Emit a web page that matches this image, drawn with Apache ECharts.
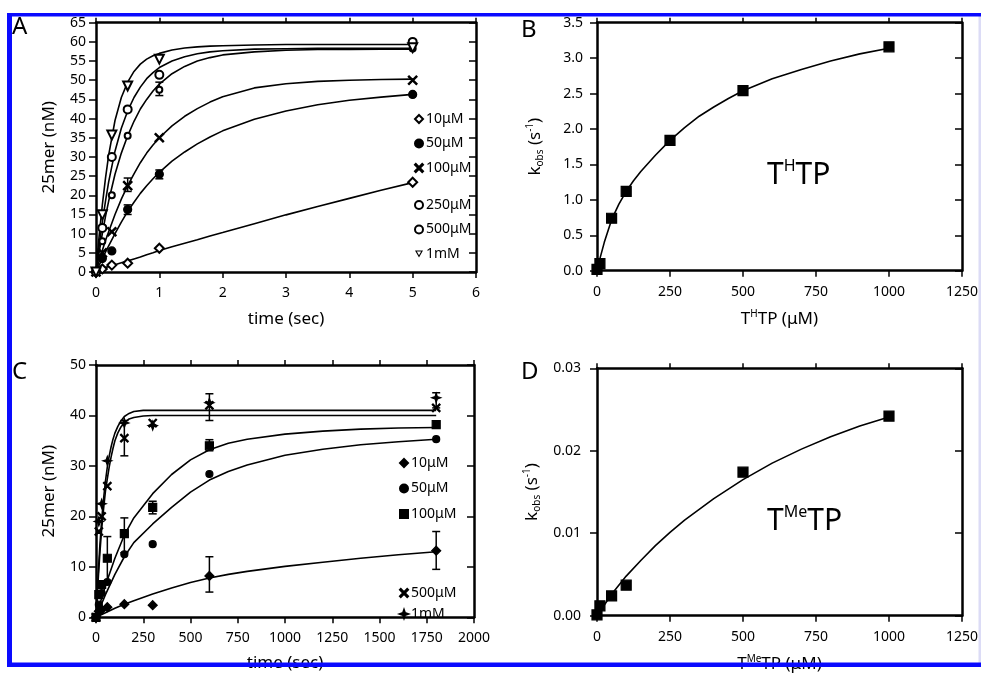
<!DOCTYPE html>
<html><head><meta charset="utf-8">
<script src="https://cdn.jsdelivr.net/npm/echarts@6/dist/echarts.min.js"></script>
<style>html,body{margin:0;padding:0;background:#fff}#c{width:981px;height:676px}</style>
</head><body><div id="c"></div>
<script>
// ---------- Panel A (T^H TP time courses) ----------
const aTimes = [0, 0.1, 0.25, 0.5, 1, 5];
const a10  = [0, 0.8, 1.8, 2.3, 6.2, 23.4];
const a50  = [0, 3.5, 5.5, 16.3, 25.5, 46.3];
const a100 = [0, 5, 10.5, 22.5, 35, 50];
const a250 = [0, 8, 20, 35.5, 47.5, 58.3];
const a500 = [0, 11.5, 30, 42.4, 51.4, 60];
const a1mM = [0, 14.9, 35.7, 48.5, 55.5, 58.5];
const aFitT   = [0, 0.05, 0.1, 0.15, 0.2, 0.3, 0.4, 0.5, 0.6, 0.7, 0.8, 0.9, 1, 1.2, 1.4, 1.6, 1.8, 2, 2.5, 3, 3.5, 4, 4.5, 5];
const a1mMFit = [0, 9.5, 17.5, 24.5, 30.5, 39.5, 45.5, 49.5, 52.3, 54.2, 55.5, 56.4, 57, 57.9, 58.4, 58.7, 58.9, 59, 59.2, 59.3, 59.3, 59.3, 59.3, 59.3];
const a500Fit = [0, 6.8, 13, 18.5, 23.5, 31.5, 37.5, 42, 45.5, 48.2, 50.4, 52, 53.3, 55, 56.1, 56.9, 57.4, 57.7, 58.1, 58.2, 58.3, 58.3, 58.3, 58.3];
const a250Fit = [0, 5.2, 10, 14.5, 18.5, 25.5, 31, 35.5, 39.3, 42.5, 45, 47.2, 49, 51.7, 53.6, 55, 55.9, 56.6, 57.4, 57.8, 58, 58, 58.1, 58.1];
const a100Fit = [0, 2.9, 5.6, 8.2, 10.5, 15, 19, 22.5, 25.6, 28.5, 31, 33.1, 35, 38.1, 40.6, 42.6, 44.3, 45.7, 48, 49.1, 49.7, 50, 50.2, 50.3];
const a50Fit  = [0, 1.8, 3.5, 5.2, 6.8, 10, 13, 15.8, 18.2, 20.5, 22.5, 24.3, 26, 28.9, 31.3, 33.4, 35.2, 36.8, 39.8, 42, 43.6, 44.8, 45.6, 46.3];
const a10Fit  = [0.5, 0.7, 0.9, 1.2, 1.4, 1.9, 2.4, 2.9, 3.4, 3.9, 4.5, 5, 5.6, 6.6, 7.5, 8.4, 9.4, 10.3, 12.6, 14.9, 17.1, 19.2, 21.3, 23.3];
const aErr = [[1, 46, 49.5], [0.5, 21, 24.5], [1, 24.3, 26.6], [0.5, 15, 17.5]];
const aTicksX = [0, 6, 1], aTicksY = [0, 65, 5];

// ---------- Panel B (kobs vs [T^H TP]) ----------
const bConc = [0, 10, 50, 100, 250, 500, 1000];
const bKobs = [0.02, 0.1, 0.74, 1.12, 1.84, 2.54, 3.16];
const bFitX = [0, 10, 25, 50, 75, 100, 125, 150, 200, 250, 300, 350, 400, 450, 500, 600, 700, 800, 900, 1000];
const bFitY = [0, 0.17, 0.4, 0.72, 0.94, 1.12, 1.27, 1.4, 1.63, 1.84, 2.02, 2.18, 2.31, 2.43, 2.54, 2.71, 2.84, 2.96, 3.06, 3.14];
const bTicksX = [0, 1250, 250], bTicksY = [0, 3.5, 0.5];

// ---------- Panel C (T^Me TP time courses) ----------
const cTimes = [0, 15, 30, 60, 150, 300, 600, 1800];
const c10  = [0, 1.2, 1.5, 2.0, 2.6, 2.4, 8.2, 13.2];
const c50  = [0, 2.5, 4.8, 7.0, 12.5, 14.5, 28.4, 35.3];
const c100 = [0, 4.5, 6.5, 11.7, 16.6, 21.8, 34, 38.2];
const c500 = [0, 17, 20, 26, 35.5, 38.5, 42, 41.5];
const c1mM = [0, 19, 22.5, 31, 38.5, 38, 42.5, 43.5];
const cFitFastT = [0, 10, 20, 30, 40, 50, 60, 70, 80, 90, 100, 115, 130, 150, 175, 200, 250, 300, 600, 1800];
const c1mMFit   = [0, 7.5, 14, 19.3, 23.5, 27, 29.8, 32, 33.8, 35.3, 36.5, 37.8, 38.8, 39.8, 40.4, 40.8, 41, 41, 41, 41];
const c500Fit   = [0, 6.5, 12.5, 17.5, 21.5, 25, 27.5, 29.8, 31.8, 33.5, 35, 36.5, 37.6, 38.6, 39.3, 39.6, 39.9, 40, 40, 40];
const cFitSlowT = [0, 50, 100, 150, 200, 300, 400, 500, 600, 700, 800, 1000, 1200, 1400, 1600, 1800];
const c100Fit   = [0, 6.3, 11.7, 16.3, 19.7, 24.5, 28.3, 31.2, 33.2, 34.5, 35.3, 36.3, 36.9, 37.3, 37.5, 37.6];
const c50Fit    = [0, 4.5, 8.5, 12, 14.8, 18.5, 21.8, 24.8, 27.2, 28.9, 30.2, 32.1, 33.3, 34.2, 34.8, 35.3];
const c10Fit    = [0, 0.9, 1.8, 2.6, 3.3, 4.6, 5.8, 6.9, 7.8, 8.5, 9.1, 10.1, 10.9, 11.7, 12.4, 13];
const cErr = [[1800, 9.5, 17], [600, 5, 12], [600, 39, 44.3], [150, 32, 39], [60, 7, 16],
              [150, 12.8, 19.7], [600, 33, 35.2], [300, 20.5, 23], [1800, 41.5, 44.5]];
const cTicksX = [0, 2000, 250], cTicksY = [0, 50, 10];

// ---------- Panel D (kobs vs [T^Me TP]) ----------
const dConc = [0, 10, 50, 100, 500, 1000];
const dKobs = [0.0001, 0.0012, 0.0024, 0.0037, 0.0174, 0.0242];
const dFitX = [0, 25, 50, 100, 150, 200, 250, 300, 400, 500, 600, 700, 800, 900, 1000];
const dFitY = [0, 0.0013, 0.0026, 0.0048, 0.0067, 0.0085, 0.0101, 0.0116, 0.0142, 0.0165, 0.0185, 0.0202, 0.0217, 0.0230, 0.0241];
const dTicksX = [0, 1250, 250], dTicksY = [0, 0.03, 0.01];

const legendA1 = ['A:10μM', 'A:50μM', 'A:100μM'];
const legendA2 = ['A:250μM', 'A:500μM', 'A:1mM'];
const legendC1 = ['C:10μM', 'C:50μM', 'C:100μM'];
const legendC2 = ['C:500μM', 'C:1mM'];

// ------------------------------------------------------------
const F = "'Noto Sans','DejaVu Sans',sans-serif";
const zip = (xs, ys) => xs.map((x, i) => [x, ys[i]]);
const AX = { color: '#000', width: 2.5 };
const plainNum = v => String(v);

function xAxes(g, t, name, nameGap, fmt) {
  return [
    { type: 'value', gridIndex: g, position: 'bottom', min: t[0], max: t[1], interval: t[2],
      axisLine: { onZero: false, lineStyle: AX },
      axisTick: { show: true, inside: false, length: 6, lineStyle: { color: '#000', width: 1.5 } },
      axisLabel: { color: '#000', fontSize: 14, fontFamily: F, margin: 14, formatter: fmt || plainNum },
      splitLine: { show: false },
      name: name.text, nameLocation: 'middle', nameGap: nameGap,
      nameTextStyle: { color: '#000', fontSize: 17, fontFamily: F, rich: name.rich } },
    { type: 'value', gridIndex: g, position: 'top', min: t[0], max: t[1], interval: t[2],
      axisLine: { onZero: false, lineStyle: AX },
      axisTick: { show: true, inside: false, length: 5, lineStyle: { color: '#000', width: 1.5 } },
      axisLabel: { show: false }, splitLine: { show: false } }
  ];
}
function yAxes(g, t, name, nameGap, margin, fmt) {
  return [
    { type: 'value', gridIndex: g, position: 'left', min: t[0], max: t[1], interval: t[2],
      axisLine: { onZero: false, lineStyle: AX },
      axisTick: { show: true, inside: false, length: 7, lineStyle: { color: '#000', width: 1.5 } },
      axisLabel: { color: '#000', fontSize: 14, fontFamily: F, margin: margin, formatter: fmt || plainNum },
      splitLine: { show: false },
      name: name.text, nameLocation: 'middle', nameGap: nameGap,
      nameTextStyle: { color: '#000', fontSize: 17, fontFamily: F, rich: name.rich } },
    { type: 'value', gridIndex: g, position: 'right', min: t[0], max: t[1], interval: t[2],
      axisLine: { onZero: false, lineStyle: AX },
      axisTick: { show: true, inside: true, length: 7, lineStyle: { color: '#000', width: 1.5 } },
      axisLabel: { show: false }, splitLine: { show: false } }
  ];
}
const plain = s => ({ text: s, rich: {} });
const richN = { a: { fontSize: 17, fontFamily: F, color: '#000', lineHeight: 20 },
                sp: { fontSize: 10, fontFamily: F, color: '#000', verticalAlign: 'top', lineHeight: 20 },
                sb: { fontSize: 10, fontFamily: F, color: '#000', verticalAlign: 'bottom', lineHeight: 16 } };

const X_CROSS = 'path://M0,1L1,0L5,4L9,0L10,1L6,5L10,9L9,10L5,6L1,10L0,9L4,5Z';
const STAR4 = 'path://M5,0L6.3,3.7L10,5L6.3,6.3L5,10L3.7,6.3L0,5L3.7,3.7Z';
const TRI_DOWN_OPEN = 'path://M0,0L10,0L5,9Z M2.3,1.4L5,6.2L7.7,1.4Z';

function scat(name, xi, data, symbol, size, opts) {
  return Object.assign({ type: 'scatter', name, xAxisIndex: xi, yAxisIndex: xi, data, symbol, symbolSize: size,
    itemStyle: { color: '#000', borderColor: '#000', borderWidth: 1.2, opacity: 1 }, z: 5 }, opts || {});
}
function fit(xi, xs, ys) {
  return { type: 'line', xAxisIndex: xi, yAxisIndex: xi, data: zip(xs, ys), symbol: 'none',
    smooth: false, lineStyle: { color: '#000', width: 1.6 }, silent: true, z: 3 };
}
function errs(xi, data) {
  return { type: 'custom', xAxisIndex: xi, yAxisIndex: xi, data, z: 4, silent: true,
    renderItem: (p, api) => {
      const top = api.coord([api.value(0), api.value(2)]);
      const bot = api.coord([api.value(0), api.value(1)]);
      const st = { stroke: '#000', lineWidth: 1.5 };
      return { type: 'group', children: [
        { type: 'line', shape: { x1: top[0], y1: top[1], x2: bot[0], y2: bot[1] }, style: st },
        { type: 'line', shape: { x1: top[0] - 4, y1: top[1], x2: top[0] + 4, y2: top[1] }, style: st },
        { type: 'line', shape: { x1: bot[0] - 4, y1: bot[1], x2: bot[0] + 4, y2: bot[1] }, style: st }
      ] };
    } };
}
const openStyle = { color: '#000', borderColor: '#000', borderWidth: 1.5, opacity: 1 };

function legend(names, left, top, gap) {
  return { data: names.map(n => n === 'A:1mM'
      ? { name: n, icon: TRI_DOWN_OPEN, itemStyle: { color: '#000', borderWidth: 0 } } : n),
    orient: 'vertical', left, top, itemGap: gap, itemWidth: 8, itemHeight: 8,
    selectedMode: false, formatter: n => n.split(':')[1],
    textStyle: { color: '#000', fontSize: 14, fontFamily: F, lineHeight: 16, padding: [0, 0, 0, -2] } };
}

const option = {
  animation: false,
  backgroundColor: '#fff',
  grid: [
    { left: 96, top: 22.7, width: 380, height: 249.3 },
    { left: 597, top: 22.7, width: 373, height: 248 },
    { left: 96, top: 365, width: 378, height: 252.3 },
    { left: 597, top: 368.3, width: 373, height: 247.4 }
  ],
  xAxis: [
    ...xAxes(0, aTicksX, plain('time (sec)'), 39),
    ...xAxes(1, bTicksX, { text: '{a|T}{sp|H}{a|TP (μM)}', rich: richN }, 38),
    ...xAxes(2, cTicksX, plain('time (sec)'), 37),
    ...xAxes(3, dTicksX, { text: '{a|T}{sp|Me}{a|TP (μM)}', rich: richN }, 38)
  ],
  yAxis: [
    ...yAxes(0, aTicksY, plain('25mer (nM)'), 38, 10),
    ...yAxes(1, bTicksY, { text: '{a|k}{sb|obs}{a| (s}{sp|-1}{a|)}', rich: richN }, 52, 14, v => v.toFixed(1)),
    ...yAxes(2, cTicksY, plain('25mer (nM)'), 38, 10),
    ...yAxes(3, dTicksY, { text: '{a|k}{sb|obs}{a| (s}{sp|-1}{a|)}', rich: richN }, 55, 16, v => v.toFixed(2))
  ],
  legend: [
    legend(legendA1, 409, 106, 8.5),
    legend(legendA2, 409, 192, 8.5),
    legend(legendC1, 394, 450, 9.5),
    legend(legendC2, 394, 580, 5)
  ],
  series: [
    // Panel A (axes index 0)
    fit(0, aFitT, a10Fit), fit(0, aFitT, a50Fit), fit(0, aFitT, a100Fit),
    fit(0, aFitT, a250Fit), fit(0, aFitT, a500Fit), fit(0, aFitT, a1mMFit),
    errs(0, aErr),
    scat('A:10μM', 0, zip(aTimes, a10), 'emptyDiamond', 9, { itemStyle: openStyle }),
    scat('A:50μM', 0, zip(aTimes, a50), 'circle', 8),
    scat('A:100μM', 0, zip(aTimes, a100), X_CROSS, 9),
    scat('A:250μM', 0, zip(aTimes, a250), 'emptyCircle', 6, { itemStyle: openStyle }),
    scat('A:500μM', 0, zip(aTimes, a500), 'emptyCircle', 8, { itemStyle: { color: '#000', borderColor: '#000', borderWidth: 2.4, opacity: 1 } }),
    scat('A:1mM', 0, zip(aTimes, a1mM), 'emptyTriangle', 9, { symbolRotate: 180, itemStyle: openStyle }),
    // Panel B (axes index 2)
    fit(2, bFitX, bFitY),
    scat('B', 2, zip(bConc, bKobs), 'rect', 10),
    // Panel C (axes index 4)
    fit(4, cFitSlowT, c10Fit), fit(4, cFitSlowT, c50Fit), fit(4, cFitSlowT, c100Fit),
    fit(4, cFitFastT, c500Fit), fit(4, cFitFastT, c1mMFit),
    errs(4, cErr),
    scat('C:10μM', 4, zip(cTimes, c10), 'diamond', 9),
    scat('C:50μM', 4, zip(cTimes, c50), 'circle', 7),
    scat('C:100μM', 4, zip(cTimes, c100), 'rect', 8),
    scat('C:500μM', 4, zip(cTimes, c500), X_CROSS, 8),
    scat('C:1mM', 4, zip(cTimes, c1mM), STAR4, 9),
    // Panel D (axes index 6)
    fit(6, dFitX, dFitY),
    scat('D', 6, zip(dConc, dKobs), 'rect', 10)
  ],
  graphic: [
    { type: 'rect', shape: { x: 7, y: 13, width: 5, height: 654 }, style: { fill: '#0a0aff' }, z: 100 },
    { type: 'rect', shape: { x: 7, y: 13, width: 974, height: 3.5 }, style: { fill: '#0a0aff' }, z: 100 },
    { type: 'rect', shape: { x: 7, y: 662.5, width: 974, height: 4.5 }, style: { fill: '#0a0aff' }, z: 100 },
    { type: 'rect', shape: { x: 978.5, y: 16, width: 2.5, height: 647 }, style: { fill: '#dcdcf6' }, z: 99 },
    { type: 'text', left: 12, top: 15, style: { text: 'A', font: '24px ' + F, fill: '#000' } },
    { type: 'text', left: 521, top: 18, style: { text: 'B', font: '24px ' + F, fill: '#000' } },
    { type: 'text', left: 12, top: 360, style: { text: 'C', font: '24px ' + F, fill: '#000' } },
    { type: 'text', left: 521, top: 360, style: { text: 'D', font: '24px ' + F, fill: '#000' } },
    { type: 'text', left: 767, top: 158, style: { text: '{a|T}{b|H}{a|TP}',
      rich: { a: { fontSize: 30, fontFamily: F, fill: '#000', lineHeight: 34 },
              b: { fontSize: 16, fontFamily: F, fill: '#000', verticalAlign: 'top', lineHeight: 30 } } } },
    { type: 'text', left: 767, top: 504, style: { text: '{a|T}{b|Me}{a|TP}',
      rich: { a: { fontSize: 30, fontFamily: F, fill: '#000', lineHeight: 34 },
              b: { fontSize: 16, fontFamily: F, fill: '#000', verticalAlign: 'top', lineHeight: 30 } } } }
  ]
};

const chart = echarts.init(document.getElementById('c'), null, { renderer: 'canvas' });
chart.setOption(option);
</script></body></html>
